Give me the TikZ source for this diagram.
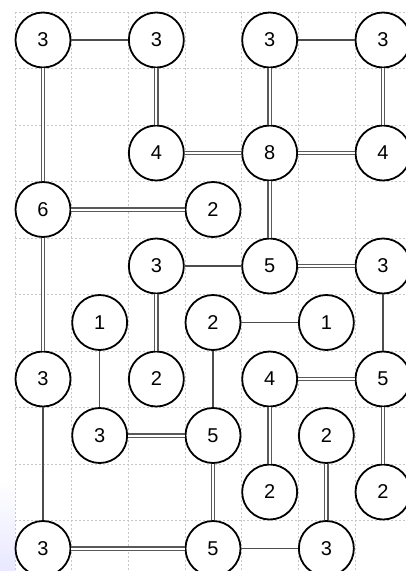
\documentclass[tikz,border=0pt]{standalone}
\usepackage{fontspec}
\setmainfont{Liberation Sans}
\begin{document}
\begin{tikzpicture}[x=1pt,y=-1pt,
 isl/.style={circle,draw=black,line width=1.8pt,fill=white,minimum size=55pt,inner sep=0pt,font=\fontsize{20}{20}\selectfont},
 one/.style={draw=black!70,line width=1.3pt},
 two/.style={draw=black!65,double=white,line width=1.2pt,double distance=2pt},
 gridl/.style={draw=black!22,line width=0.8pt,dash pattern=on 2pt off 2pt}]
\useasboundingbox (0,0) rectangle (406,571);
\clip (0,0) rectangle (406,571);
\shade[top color=white,bottom color=blue!9] (0,480) rectangle (15,571);
\foreach \k in {0,...,6} \draw[gridl] ({15+56.67*\k},12) -- ({15+56.67*\k},571);
\foreach \k in {0,...,9} \draw[gridl] (15,{12+56.5*\k}) -- (406,{12+56.5*\k});
\foreach \c/\r/\v in {0/0/3,2/0/3,4/0/3,6/0/3,
 2/2/4,4/2/8,6/2/4,
 0/3/6,3/3/2,
 2/4/3,4/4/5,6/4/3,
 1/5/1,3/5/2,5/5/1,
 0/6/3,2/6/2,4/6/4,6/6/5,
 1/7/3,3/7/5,5/7/2,
 4/8/2,6/8/2,
 0/9/3,3/9/5,5/9/3}
 \node[isl] (n\c\r) at ({43+56.67*\c},{40+56.5*\r}) {\v};
\draw[one] (n00) -- (n20);
\draw[one] (n40) -- (n60);
\draw[two] (n00) -- (n03);
\draw[two] (n20) -- (n22);
\draw[two] (n40) -- (n42);
\draw[two] (n60) -- (n62);
\draw[two] (n22) -- (n42);
\draw[two] (n42) -- (n62);
\draw[two] (n42) -- (n44);
\draw[two] (n03) -- (n33);
\draw[two] (n03) -- (n06);
\draw[one] (n24) -- (n44);
\draw[two] (n44) -- (n64);
\draw[two] (n24) -- (n26);
\draw[one] (n64) -- (n66);
\draw[one] (n15) -- (n17);
\draw[one] (n35) -- (n55);
\draw[one] (n35) -- (n37);
\draw[one] (n06) -- (n09);
\draw[two] (n46) -- (n66);
\draw[two] (n46) -- (n48);
\draw[two] (n66) -- (n68);
\draw[two] (n17) -- (n37);
\draw[two] (n37) -- (n39);
\draw[two] (n57) -- (n59);
\draw[two] (n09) -- (n39);
\draw[one] (n39) -- (n59);
\end{tikzpicture}
\end{document}
